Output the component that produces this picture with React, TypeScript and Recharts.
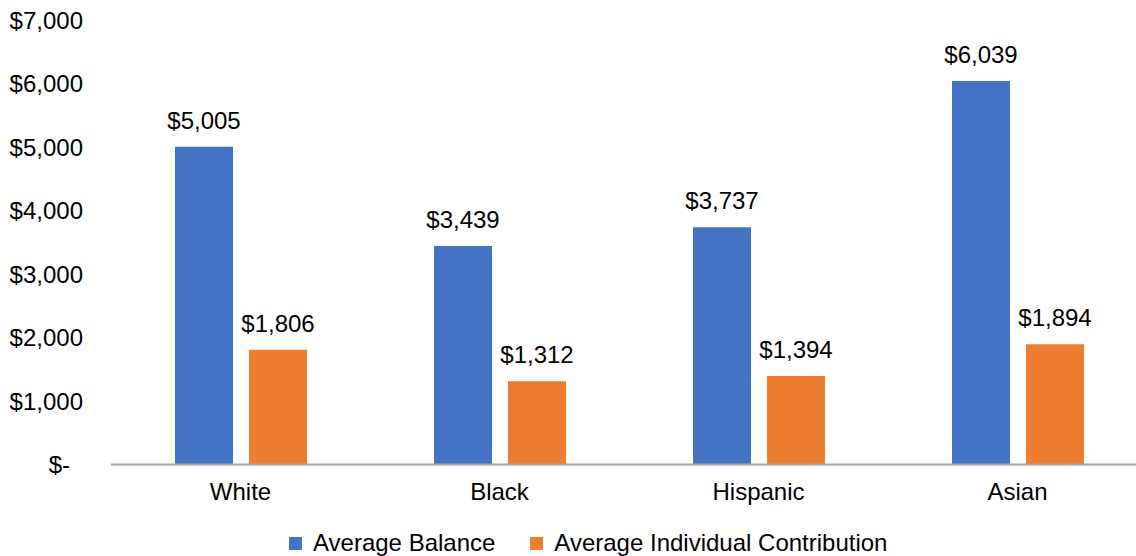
import React from "react"
import { BarChart, Bar, XAxis, YAxis, Legend, LabelList } from "recharts"

const groups = ["White", "Black", "Hispanic", "Asian"]
const avgBalance = [5005, 3439, 3737, 6039]
const avgContribution = [1806, 1312, 1394, 1894]
const yTicks = [0, 1000, 2000, 3000, 4000, 5000, 6000, 7000]

const seriesNames = ["Average Balance", "Average Individual Contribution"]
const BLUE = "#4472C4"
const ORANGE = "#ED7D31"
const FONT = "Arial, 'Liberation Sans', sans-serif"

const rows = groups.map((g, i) => ({ group: g, balance: avgBalance[i], contribution: avgContribution[i] }))

const money = (v: number) => (v === 0 ? "$-" : "$" + v.toLocaleString("en-US"))

function YTick(props: any) {
    const { x, y, payload } = props
    // accounting format: the dash sits left of the digits column
    const shift = payload.value === 0 ? 13 : 0
    return (
        <text x={x - shift} y={y} dy="0.355em" textAnchor="end" fontSize={24} fontFamily={FONT} fill="#000">
            {money(payload.value)}
        </text>
    )
}

function LegendBox() {
    const colors = [BLUE, ORANGE]
    return (
        <div style={{ display: "flex", alignItems: "center", height: 26, fontFamily: FONT, fontSize: 24, color: "#000", whiteSpace: "nowrap" }}>
            {seriesNames.map((n, i) => (
                <div key={n} style={{ display: "flex", alignItems: "center", marginRight: i === 0 ? 35 : 0 }}>
                    <div style={{ width: 13, height: 13, background: colors[i], marginRight: 11 }} />
                    <span>{n}</span>
                </div>
            ))}
        </div>
    )
}

export default function App() {
    return (
        <div style={{ position: "absolute", left: 0, top: 0, width: 1136, height: 556, overflow: "hidden", background: "#fff" }}>
            <BarChart width={1147} height={556} data={rows} margin={{ top: 20, right: 0, left: 0, bottom: 0 }} barSize={58} barGap={16}>
                <YAxis
                    width={111}
                    domain={[0, 7000]}
                    ticks={yTicks}
                    axisLine={false}
                    tickLine={false}
                    tickSize={0}
                    tickMargin={28}
                    tick={<YTick />}
                />
                <XAxis
                    dataKey="group"
                    height={91.5}
                    tickLine={false}
                    tickSize={0}
                    tickMargin={18}
                    axisLine={{ stroke: "#A6A6A6", strokeWidth: 2 }}
                    tick={{ fontSize: 24, fontFamily: FONT, fill: "#000" }}
                />
                <Legend
                    layout="horizontal"
                    verticalAlign="middle"
                    align="center"
                    wrapperStyle={{ left: 289, top: 530, width: "auto" }}
                    content={<LegendBox />}
                />
                <Bar dataKey="balance" name={seriesNames[0]} fill={BLUE} isAnimationActive={false}>
                    <LabelList dataKey="balance" position="top" offset={18} formatter={(v: any) => money(Number(v))} style={{ fontSize: 24, fontFamily: FONT, fill: "#000" }} />
                </Bar>
                <Bar dataKey="contribution" name={seriesNames[1]} fill={ORANGE} isAnimationActive={false}>
                    <LabelList dataKey="contribution" position="top" offset={18} formatter={(v: any) => money(Number(v))} style={{ fontSize: 24, fontFamily: FONT, fill: "#000" }} />
                </Bar>
            </BarChart>
        </div>
    )
}
